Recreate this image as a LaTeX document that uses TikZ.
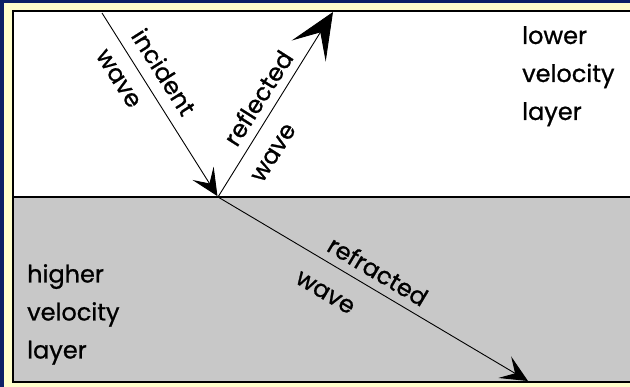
\documentclass[tikz,border=0pt]{standalone}
\usepackage{fontspec}
\setmainfont{Poppins}[FakeBold=0.9]
\usetikzlibrary{arrows.meta}
\definecolor{navy}{HTML}{0C2166}
\definecolor{cream}{HTML}{FFFFCC}
\definecolor{layergray}{HTML}{C8C8C8}
\tikzset{
  lbl/.style={font=\fontsize{24}{38}\selectfont, inner sep=0pt, text=black},
  ray/.style={draw=black, line width=0.9pt},
  smallhead/.style={-{Stealth[length=27pt,width=25pt,inset=12pt]}},
  bighead/.style={-{Stealth[length=46pt,width=40pt,inset=22pt]}}
}
\begin{document}
\begin{tikzpicture}[x=1pt,y=-1pt]
\useasboundingbox (0,0) rectangle (630,387);
\fill[navy] (0,0) rectangle (630,387);
\fill[cream] (4,3) rectangle (640,400);
\fill[white] (13,11) rectangle (640,197);
\fill[layergray] (13,197) rectangle (640,382);
\coordinate (src) at (102,13);
\coordinate (hit) at (218,197);
\coordinate (rtip) at (333,12);
\coordinate (ftip) at (528,381);
\draw[ray,smallhead,shorten >=1pt] (src) -- (hit);
\draw[ray,bighead] (hit) -- (rtip);
\draw[ray,smallhead] (hit) -- (ftip);
\draw[black,line width=2pt] (13,197) -- (640,197);
\draw[black,line width=2.5pt] (13,11) rectangle (640,382);
\node[lbl,rotate=-57.6] (inc) at (164,72) {incident};
\node[lbl,rotate=-57.6] (incw) at (118,79) {wave};
\node[lbl,rotate=57.6] (refl) at (258,98) {reflected};
\node[lbl,rotate=57.6] (reflw) at (274,153) {wave};
\node[lbl,rotate=-30.8] (refr) at (378,271) {refracted};
\node[lbl,rotate=-30.8] (refrw) at (325,293) {wave};
\node[lbl,align=left,anchor=north west] (low) at (522,26) {lower\\velocity\\layer};
\node[lbl,align=left,anchor=north west] (high) at (27,264) {higher\\velocity\\layer};
\end{tikzpicture}
\end{document}
